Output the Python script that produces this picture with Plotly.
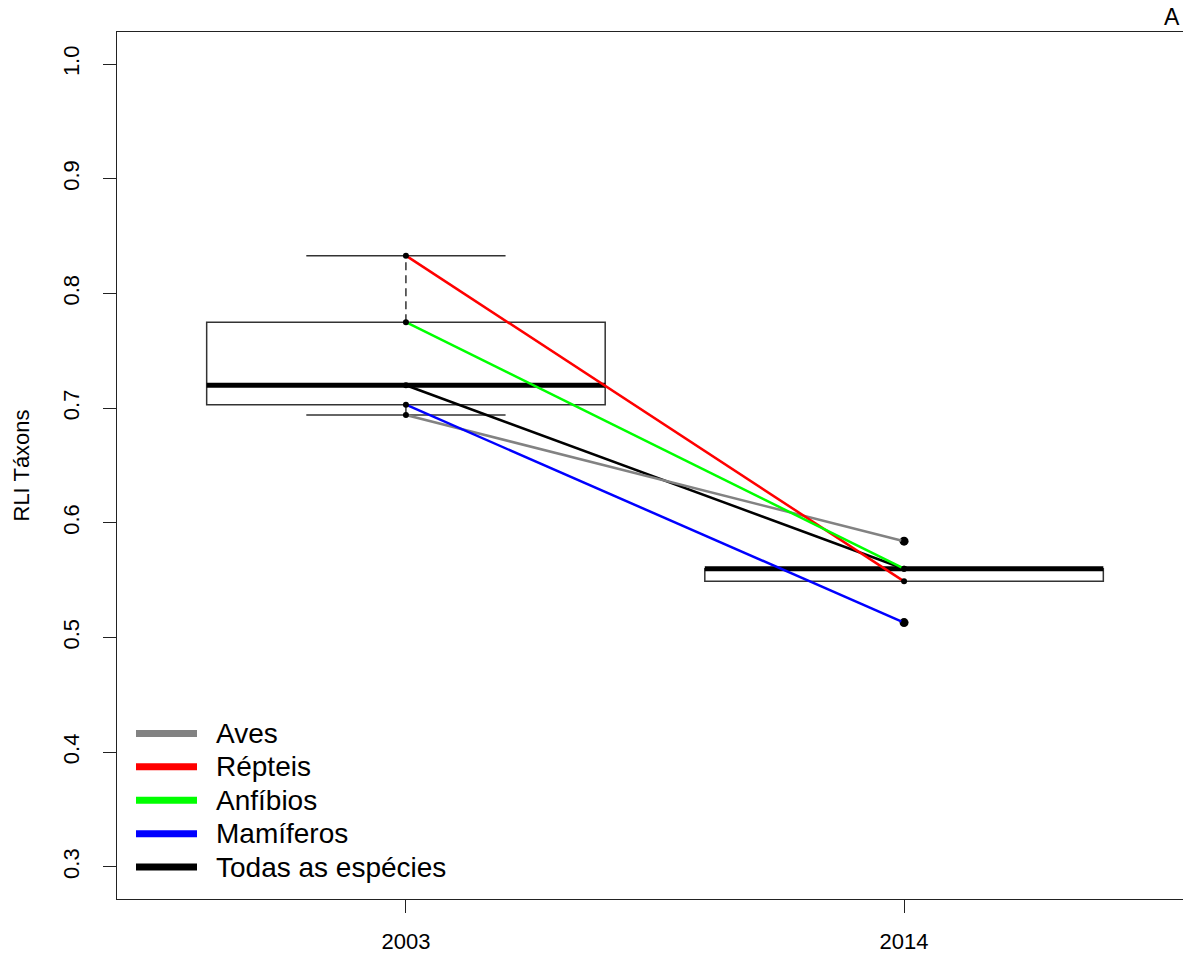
import numpy as np
import plotly.graph_objects as go

# === DATA ===
years = ["2003", "2014"]
taxa = ["Aves", "Répteis", "Anfíbios", "Mamíferos", "Todas as espécies"]
aves = [0.694, 0.584]
repteis = [0.833, 0.549]
anfibios = [0.775, 0.560]
mamiferos = [0.703, 0.513]
todas = [0.720, 0.560]

colors = ["#828282", "#FF0000", "#00FF00", "#0000FF", "#000000"]
series = [aves, repteis, anfibios, mamiferos, todas]

ylim = (0.3, 1.0)
FONT = "Liberation Sans, Arial, sans-serif"

# page body has an 8px margin all round, so the figure is a bit smaller
W, H = 1175, 946
ML, MT, MB = 109, 24, 53
plot_w = W - ML
plot_h = H - MT - MB
PX_PER_UNIT = 1076 / 2.16   # x scale of the original plot


# === BOX STATS, like R's boxplot.stats (fivenum hinges) ===
def fivenum(v):
    v = np.sort(np.asarray(v, dtype=float))
    n = len(v)
    n4 = np.floor((n + 3) / 2) / 2
    d = np.array([1, n4, (n + 1) / 2, n + 1 - n4, n]) - 1
    return 0.5 * (v[np.floor(d).astype(int)] + v[np.ceil(d).astype(int)])


def box_stats(v, coef=1.5):
    lo, q1, med, q3, hi = fivenum(v)
    iqr = q3 - q1
    v = np.asarray(v)
    inside = v[(v >= q1 - coef * iqr) & (v <= q3 + coef * iqr)]
    out = v[(v < q1 - coef * iqr) | (v > q3 + coef * iqr)]
    return dict(q1=q1, med=med, q3=q3, wlo=inside.min(), whi=inside.max(), out=out)


xpos = np.arange(1, len(years) + 1)
half = 0.4   # box half width
cap = 0.2    # whisker cap half width

fig = go.Figure()
shapes = []

for i, yr in enumerate(years):
    vals = [s[i] for s in series]
    st = box_stats(vals)
    x = xpos[i]
    # whiskers (dashed)
    shapes.append(dict(type="line", xref="x", yref="y", x0=x, x1=x, y0=st["q3"], y1=st["whi"],
                       line=dict(color="black", width=1.2, dash="8px,5px"), layer="below"))
    shapes.append(dict(type="line", xref="x", yref="y", x0=x, x1=x, y0=st["wlo"], y1=st["q1"],
                       line=dict(color="black", width=1.2, dash="8px,5px"), layer="below"))
    # caps
    for w in (st["wlo"], st["whi"]):
        shapes.append(dict(type="line", xref="x", yref="y", x0=x - cap, x1=x + cap, y0=w, y1=w,
                           line=dict(color="#333333", width=1.5), layer="below"))
    # box
    shapes.append(dict(type="rect", xref="x", yref="y", x0=x - half, x1=x + half,
                       y0=st["q1"], y1=st["q3"], fillcolor="white",
                       line=dict(color="#333333", width=1.5), layer="below"))
    # median
    shapes.append(dict(type="line", xref="x", yref="y", x0=x - half, x1=x + half,
                       y0=st["med"], y1=st["med"], line=dict(color="black", width=5), layer="below"))
    # outliers
    if len(st["out"]):
        fig.add_trace(go.Scatter(x=[x] * len(st["out"]), y=st["out"], mode="markers",
                                 marker=dict(color="black", size=9), showlegend=False,
                                 hoverinfo="skip"))

# === LINES PER TAXON ===
draw_order = [4, 0, 1, 2, 3]
for k in draw_order:
    fig.add_trace(go.Scatter(
        x=xpos, y=series[k], mode="lines+markers", name=taxa[k],
        line=dict(color=colors[k], width=2.5),
        marker=dict(color="black", size=6),
        showlegend=False,
        hovertemplate="%{y:.3f}<extra>" + taxa[k] + "</extra>"
    ))

# === LEGEND (drawn by hand, R style: thick line + text) ===
annotations = []
row0, row_gap = 735 - 8, 33.5   # pixel centre of first row, spacing
for k, name in enumerate(taxa):
    py = row0 + k * row_gap - MT
    yp = 1 - py / plot_h
    shapes.append(dict(type="line", xref="paper", yref="paper",
                       x0=(136 - 8 - ML) / plot_w, x1=(197 - 8 - ML) / plot_w, y0=yp, y1=yp,
                       line=dict(color=colors[k], width=7)))
    annotations.append(dict(text=name, xref="paper", yref="paper",
                            x=(214 - 8 - ML) / plot_w, y=yp, xanchor="left", yanchor="middle",
                            showarrow=False, font=dict(size=28, color="black")))

annotations.append(dict(text="A", xref="paper", yref="paper", x=1, y=1, xshift=-1,
                        xanchor="right", yanchor="bottom", showarrow=False,
                        font=dict(size=23, color="black")))
annotations.append(dict(text="RLI Táxons", xref="paper", yref="paper",
                        x=-(117 - 21) / plot_w, y=0.5, xanchor="center", yanchor="middle",
                        textangle=-90, showarrow=False, font=dict(size=22, color="black")))

pad = 0.04 * (ylim[1] - ylim[0])
xpad = 0.04 * 2.0

fig.update_layout(
    width=W, height=H,
    margin=dict(l=ML, r=0, t=MT, b=MB),
    plot_bgcolor="white", paper_bgcolor="white",
    font=dict(family=FONT, size=22, color="black"),
    shapes=shapes,
    annotations=annotations,
    showlegend=False,
)

fig.update_xaxes(
    range=[0.5 - xpad, 0.5 - xpad + plot_w / PX_PER_UNIT],
    tickvals=xpos, ticktext=years,
    showline=True, linecolor="#222222", linewidth=1.2, mirror=True,
    ticks="outside", ticklen=13, tickcolor="#222222", tickwidth=1.2,
    ticklabelstandoff=9,
    showgrid=False, zeroline=False,
    tickfont=dict(size=22),
)
fig.update_yaxes(
    range=[ylim[0] - pad, ylim[1] + pad],
    tick0=0.3, dtick=0.1, tickformat=".1f", tickangle=-90,
    showline=True, linecolor="#222222", linewidth=1.2,
    ticks="outside", ticklen=13, tickcolor="#222222", tickwidth=1.2,
    ticklabelstandoff=15,
    showgrid=False, zeroline=False,
    tickfont=dict(size=22),
)

fig.write_html("out.html")
